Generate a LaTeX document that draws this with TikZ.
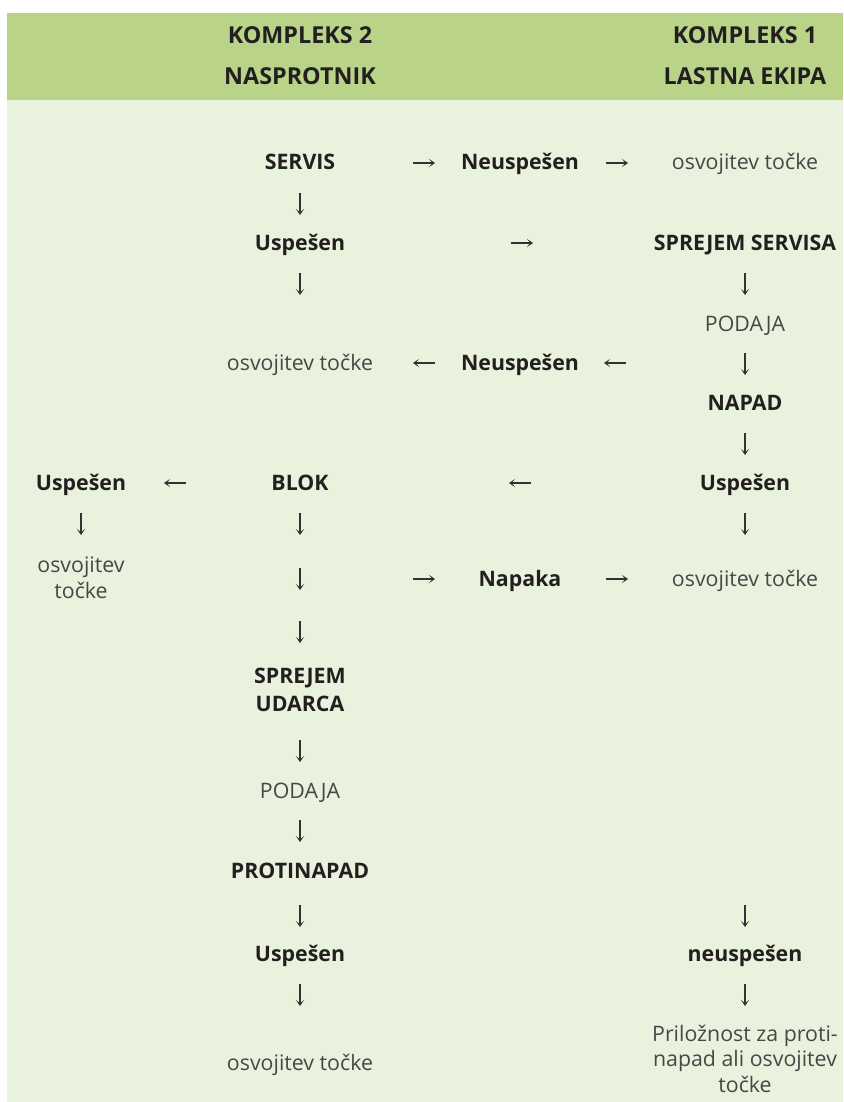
\documentclass[tikz,border=0pt]{standalone}
\usepackage{fontspec}
\setmainfont{Open Sans}
\usetikzlibrary{arrows.meta}
\definecolor{headgreen}{HTML}{B9D489}
\definecolor{bodygreen}{HTML}{E9F2DC}
\definecolor{ink}{HTML}{231F20}
\definecolor{softink}{HTML}{474747}
\definecolor{arrowink}{HTML}{333333}
\begin{document}
\begin{tikzpicture}[x=0.75pt,y=-0.75pt,>={Stealth[length=4.5pt,width=6pt,inset=2.5pt]},
	head/.style={font=\bfseries\fontsize{17.5}{20}\selectfont,text=ink,anchor=base},
	lbl/.style={font=\bfseries\fontsize{16}{21}\selectfont,text=ink,anchor=base,align=center},
	lite/.style={font=\fontsize{16}{19}\selectfont,text=softink,anchor=base,align=center},
	dn/.style={inner sep=0pt,minimum width=10pt,minimum height=16.5pt,
		path picture={\draw[->,arrowink,line width=1pt] (path picture bounding box.north) -- (path picture bounding box.south);}},
	rt/.style={inner sep=0pt,minimum width=16.5pt,minimum height=10pt,
		path picture={\draw[->,arrowink,line width=1pt] (path picture bounding box.west) -- (path picture bounding box.east);}},
	lt/.style={inner sep=0pt,minimum width=16.5pt,minimum height=10pt,
		path picture={\draw[->,arrowink,line width=1pt] (path picture bounding box.east) -- (path picture bounding box.west);}}]
	\useasboundingbox (0,0) rectangle (843,1102);
	\fill[headgreen] (7,13) rectangle (843,100);
	\fill[bodygreen] (7,100) rectangle (843,1102);

	% header
	\node[head] (k2) at (300,44) {KOMPLEKS 2};
	\node[head] (nasp) at (300,85) {NASPROTNIK};
	\node[head] (k1) at (745,44) {KOMPLEKS 1};
	\node[head] (ekipa) at (745,85) {LASTNA EKIPA};

	% servis
	\node[lbl] (servis) at (300,170) {SERVIS};
	\node[rt] (r1) at (424,163) {};
	\node[lbl] (neusp1) at (520,170) {Neuspešen};
	\node[rt] (r2) at (617,163) {};
	\node[lite] (osv1) at (745,170) {osvojitev točke};
	\node[dn] (d1) at (300,204) {};
	\node[lbl] (usp1) at (300,250) {Uspešen};
	\node[rt] (r3) at (522,243) {};
	\node[lbl] (sprejem) at (745,250) {SPREJEM SERVISA};
	\node[dn] (d2) at (300,284) {};
	\node[dn] (d3) at (745,284) {};
	\node[lite] (podaja1) at (745,331) {PODAJA};
	\node[lite] (osv2) at (300,370) {osvojitev točke};
	\node[lt] (l1) at (424,363) {};
	\node[lbl] (neusp2) at (520,370) {Neuspešen};
	\node[lt] (l2) at (615,363) {};
	\node[dn] (d4) at (745,364) {};
	\node[lbl] (napad) at (745,410) {NAPAD};
	\node[dn] (d5) at (745,444) {};

	% blok
	\node[lbl] (usp2) at (81,490) {Uspešen};
	\node[lt] (l3) at (175,483) {};
	\node[lbl] (blok) at (300,490) {BLOK};
	\node[lt] (l4) at (520,483) {};
	\node[lbl] (usp3) at (745,490) {Uspešen};
	\node[dn] (d6) at (81,524) {};
	\node[dn] (d7) at (300,524) {};
	\node[dn] (d8) at (745,524) {};
	\node[lite] (osv3) at (81,598) {osvojitev\\točke};
	\node[dn] (d9) at (300,579) {};
	\node[rt] (r4) at (424,579) {};
	\node[lbl] (napaka) at (520,586) {Napaka};
	\node[rt] (r5) at (617,579) {};
	\node[lite] (osv4) at (745,586) {osvojitev točke};
	\node[dn] (d10) at (300,632) {};

	% protinapad
	\node[lbl] (udarec) at (300,711) {SPREJEM\\UDARCA};
	\node[dn] (d11) at (300,751) {};
	\node[lite] (podaja2) at (300,798) {PODAJA};
	\node[dn] (d12) at (300,831) {};
	\node[lbl] (protinapad) at (300,878) {PROTINAPAD};
	\node[dn] (d13) at (300,916) {};
	\node[dn] (d14) at (745,916) {};
	\node[lbl] (usp4) at (300,961) {Uspešen};
	\node[lbl] (neusp3) at (745,961) {neuspešen};
	\node[dn] (d15) at (300,995) {};
	\node[dn] (d16) at (745,995) {};
	\node[lite] (osv5) at (300,1070) {osvojitev točke};
	\node[lite] (prilo) at (745,1092) {Priložnost za proti-\\napad ali osvojitev\\točke};
\end{tikzpicture}
\end{document}
